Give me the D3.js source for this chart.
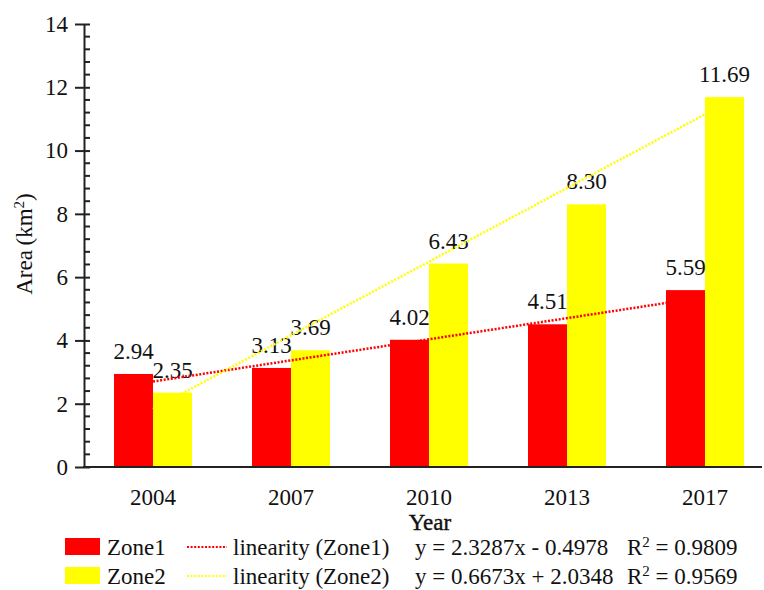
<!DOCTYPE html>
<html>
<head>
<meta charset="utf-8">
<script src="https://cdn.jsdelivr.net/npm/d3@7"></script>
<style>
  body { margin: 0; background: #fff; }
  text { font-family: "Liberation Serif", "Times New Roman", serif; fill: #111; }
</style>
</head>
<body>
<div id="chart"></div>
<script>
// Data
var years = ["2004", "2007", "2010", "2013", "2017"];
var zone1 = [2.94, 3.13, 4.02, 4.51, 5.59];
var zone2 = [2.35, 3.69, 6.43, 8.30, 11.69];
var seriesNames = ["Zone1", "Zone2"];
var seriesColors = ["#ff0000", "#ffff00"];
// trend lines as drawn (x = 1..5)
var trendSlopes = [0.6673, 2.3287];
var trendIntercepts = [2.0348, -0.4978];
var trendNames = ["linearity (Zone1)", "linearity (Zone2)"];
var trendEquations = ["y = 2.3287x - 0.4978", "y = 0.6673x + 2.0348"];
var trendR2 = ["0.9809", "0.9569"];
var yTicks = [0, 2, 4, 6, 8, 10, 12, 14];

var svgWidth = 764;
var svgHeight = 590;

var svg = d3.select("#chart")
  .append("svg")
  .attr("width", svgWidth)
  .attr("height", svgHeight)
  .attr("font-family", "Liberation Serif, serif");

// Scales
var xScale = d3.scaleBand()
  .domain(years)
  .range([84, 774])
  .paddingInner(0)
  .paddingOuter(0);

var inner = d3.scaleBand()
  .domain(seriesNames)
  .range([xScale.bandwidth() / 2 - 39, xScale.bandwidth() / 2 + 39]);

var yScale = d3.scaleLinear()
  .domain([0, 14])
  .range([467, 24]);

// Bars
var groups = svg.selectAll(".grp")
  .data(years)
  .enter()
  .append("g")
  .attr("class", "grp")
  .attr("transform", d => `translate(${xScale(d)},0)`);

var seriesData = [zone1, zone2];
seriesNames.forEach(function(name, s) {
  groups.append("rect")
    .attr("x", inner(name))
    .attr("width", inner.bandwidth())
    .attr("y", (d, i) => yScale(seriesData[s][i]))
    .attr("height", (d, i) => yScale(0) - yScale(seriesData[s][i]))
    .attr("fill", seriesColors[s]);
});

// Trend lines
var xPos = function(k) { return xScale(years[k - 1]) + xScale.bandwidth() / 2; };
trendSlopes.forEach(function(m, s) {
  var b = trendIntercepts[s];
  svg.append("line")
    .attr("x1", xPos(1))
    .attr("y1", yScale(m * 1 + b))
    .attr("x2", xPos(5))
    .attr("y2", yScale(m * 5 + b))
    .attr("stroke", seriesColors[s])
    .attr("stroke-width", 2.5)
    .attr("stroke-dasharray", "2,1.6");
});

// Value labels
seriesNames.forEach(function(name, s) {
  groups.append("text")
    .attr("x", inner(name) + inner.bandwidth() / 2)
    .attr("y", (d, i) => yScale(seriesData[s][i]) - 15)
    .attr("text-anchor", "middle")
    .attr("font-size", "23px")
    .text((d, i) => seriesData[s][i].toFixed(2));
});

// Y axis
var leftAxis = d3.axisLeft(yScale)
  .tickValues(yTicks)
  .tickSizeInner(9)
  .tickSizeOuter(0)
  .tickPadding(7);

var yAxisG = svg.append("g")
  .attr("transform", "translate(84,0)")
  .call(leftAxis);
yAxisG.selectAll(".tick line")
  .attr("x2", -9).attr("x1", 6)
  .attr("stroke", "#222").attr("stroke-width", 2);
yAxisG.select(".domain").attr("stroke", "#222").attr("stroke-width", 2);
yAxisG.selectAll("text")
  .attr("font-family", "Liberation Serif, serif")
  .attr("font-size", "23px")
  .attr("fill", "#111");

// minor ticks every 0.4
var minor = d3.range(0, 14.001, 0.4).filter(v => Math.abs(v / 2 - Math.round(v / 2)) > 0.01);
svg.append("g").selectAll("line")
  .data(minor)
  .enter()
  .append("line")
  .attr("x1", 84).attr("x2", 90)
  .attr("y1", d => yScale(d)).attr("y2", d => yScale(d))
  .attr("stroke", "#222").attr("stroke-width", 2);

// X axis
svg.append("line")
  .attr("x1", 83).attr("x2", 762)
  .attr("y1", yScale(0)).attr("y2", yScale(0))
  .attr("stroke", "#222").attr("stroke-width", 2);

svg.append("g").selectAll("text")
  .data(years)
  .enter()
  .append("text")
  .attr("x", d => xScale(d) + xScale.bandwidth() / 2)
  .attr("y", 505)
  .attr("text-anchor", "middle")
  .attr("font-size", "23px")
  .text(d => d);

// Axis titles
svg.append("text")
  .attr("x", 430)
  .attr("y", 530)
  .attr("text-anchor", "middle")
  .attr("font-size", "23px")
  .attr("stroke", "#111")
  .attr("stroke-width", 0.4)
  .text("Year");

svg.append("text")
  .attr("transform", "translate(32,244) rotate(-90)")
  .attr("text-anchor", "middle")
  .attr("font-size", "23px")
  .html('Area\u2009(km<tspan dy="-8" font-size="15px">2</tspan><tspan dy="8">)</tspan>');

// Legend
var legendRows = [547, 576];
seriesNames.forEach(function(name, s) {
  var y = legendRows[s];
  svg.append("rect")
    .attr("x", 65).attr("y", y - 9)
    .attr("width", 35).attr("height", 17)
    .attr("fill", seriesColors[s]);
  svg.append("text")
    .attr("x", 107).attr("y", y + 8)
    .attr("font-size", "23px")
    .text(name);
  svg.append("line")
    .attr("x1", 187).attr("x2", 227)
    .attr("y1", y).attr("y2", y)
    .attr("stroke", seriesColors[s])
    .attr("stroke-width", 2)
    .attr("stroke-dasharray", "2,1.6");
  svg.append("text")
    .attr("x", 233).attr("y", y + 8)
    .attr("font-size", "23px")
    .text(trendNames[s]);
  svg.append("text")
    .attr("x", 415).attr("y", y + 8)
    .attr("font-size", "23px")
    .text(trendEquations[s]);
  svg.append("text")
    .attr("x", 627).attr("y", y + 8)
    .attr("font-size", "23px")
    .html('R<tspan dy="-8" font-size="15px">2</tspan><tspan dy="8"> = ' + trendR2[s] + '</tspan>');
});
</script>
</body>
</html>
